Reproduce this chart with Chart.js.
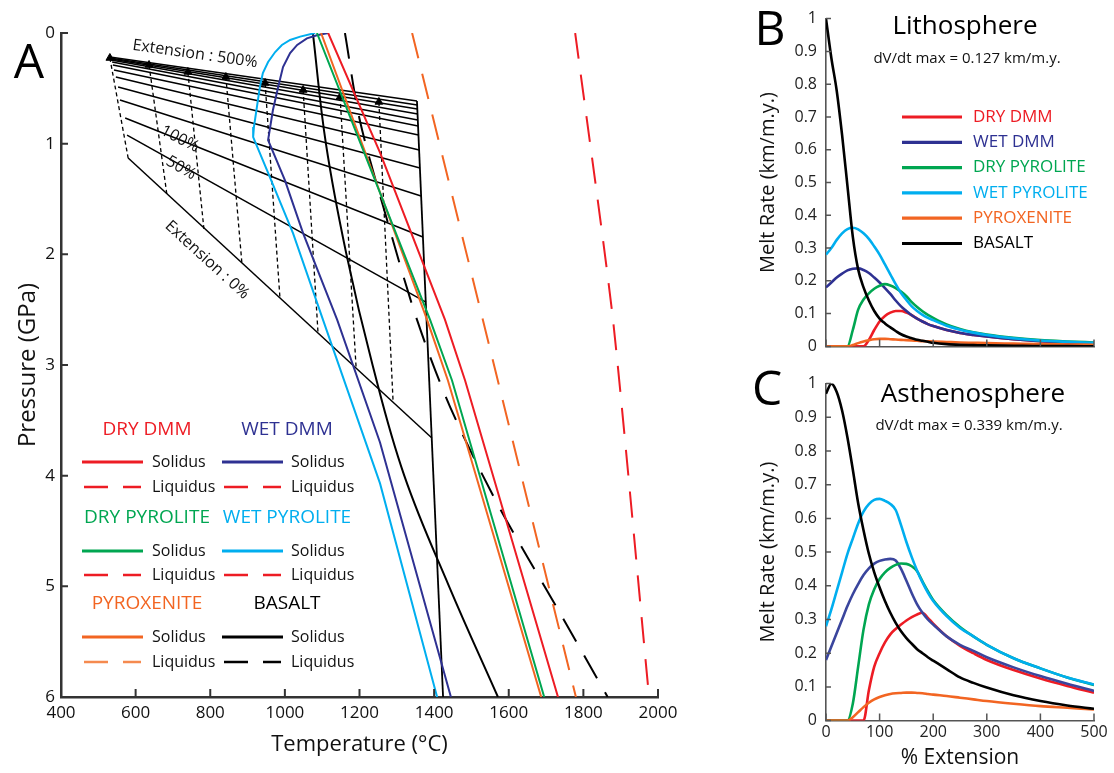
<!DOCTYPE html>
<html>
<head>
<meta charset="utf-8">
<script src="https://cdn.jsdelivr.net/npm/chart.js@4.4.0/dist/chart.umd.min.js"></script>
<style>
  html, body { margin: 0; padding: 0; background: #fff; }
  #wrap { position: relative; width: 1114px; height: 773px; overflow: hidden; }
  canvas { position: absolute; }
</style>
</head>
<body>
<div id="wrap">
  <canvas id="chartA" width="700" height="773" style="left:0;top:0"></canvas>
  <canvas id="chartB" width="414" height="365" style="left:700px;top:0"></canvas>
  <canvas id="chartC" width="414" height="408" style="left:700px;top:365px"></canvas>
</div>
<script>
// ---- Panel A: temperature (°C) / pressure (GPa) ----
const dryDmmSolT = [1116, 1255, 1429, 1483, 1732];
const dryDmmSolP = [0, 1.08, 2.59, 3.14, 6];
const dmmLiqT = [1778, 1879, 1976];
const dmmLiqP = [0, 2.58, 6];
const wetDmmSolT = [1116, 1086, 1059, 1033, 1014, 995, 982, 968, 955, 1000, 1049, 1140, 1255, 1445];
const wetDmmSolP = [0, 0.02, 0.048, 0.108, 0.181, 0.307, 0.488, 0.696, 0.967, 1.33, 1.81, 2.59, 3.7, 6];
const dryPyrSolT = [1086, 1389, 1448, 1695];
const dryPyrSolP = [0, 2.59, 3.14, 6];
const wetPyrSolT = [1081, 1041, 1014, 992, 974, 955, 941, 933, 925, 917, 915, 952, 1022, 1102, 1255, 1408];
const wetPyrSolP = [0, 0.033, 0.063, 0.108, 0.172, 0.262, 0.361, 0.488, 0.669, 0.85, 0.94, 1.24, 1.81, 2.59, 4.07, 6];
const pyxSolT = [1097, 1381, 1437, 1687];
const pyxSolP = [0, 2.59, 3.14, 6];
const pyxLiqT = [1341, 1780];
const pyxLiqP = [0, 6];
const basSolT = [1075, 1110, 1165, 1235, 1320, 1440, 1571];
const basSolP = [0, 1, 2, 3, 4, 5, 6];
const basLiqT = [1161, 1201, 1274, 1354, 1443, 1569, 1737, 1865];
const basLiqP = [0, 0.79, 1.69, 2.59, 3.38, 4.25, 5.24, 6];

// geotherms for each extension step (left end -> adiabat)
const fanLeftT = [531, 531, 534, 534, 537, 539, 542, 547, 553, 558, 572, 577, 580];
const fanLeftP = [0.217, 0.226, 0.235, 0.244, 0.262, 0.289, 0.334, 0.398, 0.488, 0.605, 0.768, 0.922, 1.13];
const fanRightT = [1354, 1355, 1355, 1356, 1356, 1357, 1358, 1360, 1362, 1365, 1370, 1378, 1394];
const fanRightP = [0.614, 0.651, 0.687, 0.732, 0.786, 0.84, 0.922, 1.057, 1.22, 1.473, 1.843, 2.431, 3.66];
const adiabatT = [1354, 1424];
const adiabatP = [0.614, 6];

// decompression paths (top with arrow -> bottom on 0% geotherm)
const pathTopT = [531, 636, 740, 842, 947, 1049, 1148, 1252];
const pathTopP = [0.226, 0.289, 0.352, 0.398, 0.452, 0.515, 0.578, 0.623];
const pathBotT = [580, 684, 783, 885, 987, 1089, 1191, 1290];
const pathBotP = [1.13, 1.464, 1.771, 2.087, 2.404, 2.72, 3.03, 3.33];

// ---- Panels B and C: melt rate vs % extension ----
const extX = [0, 10, 20, 30, 40, 50, 60, 70, 80, 90, 100, 110, 120, 130, 140, 150, 160, 170, 180, 190, 200, 225, 250, 275, 300, 350, 400, 450, 500];

const litDryDmm = [0, 0, 0, 0, 0, 0, 0, 0, 0.02, 0.05, 0.076, 0.093, 0.103, 0.108, 0.108, 0.103, 0.095, 0.085, 0.076, 0.068, 0.062, 0.05, 0.041, 0.035, 0.03, 0.022, 0.016, 0.012, 0.009];
const litWetDmm = [0.18, 0.195, 0.21, 0.222, 0.232, 0.237, 0.238, 0.233, 0.224, 0.21, 0.195, 0.178, 0.16, 0.14, 0.122, 0.108, 0.095, 0.085, 0.076, 0.068, 0.062, 0.05, 0.041, 0.035, 0.03, 0.022, 0.016, 0.012, 0.009];
const litDryPyr = [0, 0, 0, 0, 0, 0.05, 0.112, 0.143, 0.162, 0.176, 0.185, 0.19, 0.186, 0.178, 0.167, 0.153, 0.135, 0.12, 0.107, 0.096, 0.087, 0.067, 0.053, 0.043, 0.036, 0.026, 0.019, 0.015, 0.012];
const litWetPyr = [0.28, 0.3, 0.325, 0.345, 0.358, 0.362, 0.357, 0.345, 0.328, 0.305, 0.28, 0.25, 0.22, 0.19, 0.163, 0.142, 0.122, 0.108, 0.096, 0.087, 0.08, 0.063, 0.051, 0.042, 0.035, 0.025, 0.018, 0.014, 0.011];
const litPyx = [0, 0, 0, 0, 0, 0.004, 0.01, 0.015, 0.019, 0.022, 0.023, 0.023, 0.022, 0.021, 0.02, 0.019, 0.018, 0.017, 0.016, 0.0155, 0.015, 0.0135, 0.012, 0.011, 0.01, 0.0085, 0.007, 0.006, 0.005];
const litBas = [1, 0.88, 0.78, 0.645, 0.49, 0.335, 0.235, 0.18, 0.14, 0.108, 0.085, 0.07, 0.058, 0.047, 0.037, 0.03, 0.025, 0.02, 0.017, 0.014, 0.011, 0.007, 0.005, 0.004, 0.003, 0.002, 0.001, 0.001, 0];

const astDryDmm = [0, 0, 0, 0, 0, 0, 0, 0, 0.09, 0.16, 0.2, 0.232, 0.256, 0.272, 0.285, 0.297, 0.307, 0.315, 0.32, 0.305, 0.288, 0.25, 0.222, 0.2, 0.18, 0.15, 0.125, 0.103, 0.083];
const astWetDmm = [0.18, 0.22, 0.26, 0.3, 0.34, 0.375, 0.405, 0.432, 0.452, 0.466, 0.474, 0.478, 0.48, 0.475, 0.45, 0.415, 0.378, 0.345, 0.32, 0.3, 0.285, 0.25, 0.225, 0.207, 0.188, 0.158, 0.132, 0.109, 0.088];
const astDryPyr = [0, 0, 0, 0, 0, 0.05, 0.16, 0.27, 0.345, 0.39, 0.42, 0.44, 0.453, 0.462, 0.466, 0.465, 0.458, 0.443, 0.413, 0.384, 0.358, 0.313, 0.278, 0.25, 0.225, 0.185, 0.155, 0.128, 0.106];
const astWetPyr = [0.28, 0.33, 0.385, 0.44, 0.495, 0.54, 0.585, 0.62, 0.642, 0.655, 0.658, 0.652, 0.643, 0.625, 0.58, 0.53, 0.485, 0.445, 0.41, 0.38, 0.355, 0.31, 0.275, 0.25, 0.225, 0.185, 0.155, 0.128, 0.107];
const astPyx = [0, 0, 0, 0, 0, 0.01, 0.025, 0.04, 0.053, 0.063, 0.07, 0.075, 0.079, 0.081, 0.082, 0.083, 0.083, 0.082, 0.081, 0.079, 0.077, 0.073, 0.068, 0.063, 0.058, 0.05, 0.043, 0.038, 0.033];
const astBas = [0.97, 1, 0.975, 0.92, 0.84, 0.745, 0.645, 0.565, 0.495, 0.44, 0.395, 0.355, 0.32, 0.29, 0.265, 0.245, 0.228, 0.212, 0.2, 0.188, 0.178, 0.153, 0.128, 0.112, 0.098, 0.075, 0.058, 0.045, 0.035];

const rockNames = ['DRY DMM', 'WET DMM', 'DRY PYROLITE', 'WET PYROLITE', 'PYROXENITE', 'BASALT'];

const FONT = "'Open Sans', sans-serif";
const RED = '#ed1c24';
const NAVY = '#2e3192';
const NAVY_C = '#3a459d';
const GREEN = '#00a651';
const CYAN = '#00aeef';
const ORANGE = '#f26522';
const BLACK = '#000000';
const rockColors = [RED, NAVY, GREEN, CYAN, ORANGE, BLACK];
const liquidusColors = [RED, RED, RED, RED, '#f58a4f', BLACK];

function pts(xs, ys) {
    return xs.map((x, i) => ({ x: x, y: ys[i] }));
}

function label(ctx, str, x, y, opt) {
    ctx.save();
    ctx.font = (opt.weight || '') + ' ' + opt.size + 'px ' + FONT;
    ctx.fillStyle = opt.color || '#111';
    ctx.textAlign = opt.align || 'center';
    ctx.textBaseline = 'middle';
    ctx.translate(x, y);
    if (opt.rot) ctx.rotate((opt.rot * Math.PI) / 180);
    ctx.fillText(str, 0, 0);
    ctx.restore();
}

function strokeLine(ctx, x1, x2, y, color, width, dash) {
    ctx.save();
    ctx.strokeStyle = color;
    ctx.lineWidth = width;
    ctx.setLineDash(dash || []);
    ctx.beginPath();
    ctx.moveTo(x1, y);
    ctx.lineTo(x2, y);
    ctx.stroke();
    ctx.restore();
}

// tick marks drawn inside the plot area, like the original figure
const inwardTicks = {
    id: 'inwardTicks',
    afterDraw(chart, args, opts) {
        const { ctx, chartArea: area } = chart;
        const xs = chart.scales.x;
        const ys = chart.scales.y;
        ctx.save();
        ctx.strokeStyle = opts.color;
        ctx.lineWidth = opts.width;
        ctx.beginPath();
        xs.ticks.forEach((t) => {
            const px = xs.getPixelForValue(t.value);
            ctx.moveTo(px, area.bottom);
            ctx.lineTo(px, area.bottom - opts.xLen);
        });
        ys.ticks.forEach((t) => {
            const py = ys.getPixelForValue(t.value);
            ctx.moveTo(area.left, py);
            ctx.lineTo(area.left + opts.yLen, py);
        });
        ctx.stroke();
        ctx.restore();
    },
};

function curve(name, xs, ys, color, extra) {
    return Object.assign(
        {
            label: name,
            data: pts(xs, ys),
            showLine: true,
            borderColor: color,
            backgroundColor: color,
            borderWidth: 2,
            pointRadius: 0,
            tension: 0,
        },
        extra || {}
    );
}

// ---------------- Panel A ----------------
const datasetsA = [
    curve('DRY DMM solidus', dryDmmSolT, dryDmmSolP, RED),
    curve('DRY PYROLITE solidus', dryPyrSolT, dryPyrSolP, GREEN),
    curve('PYROXENITE solidus', pyxSolT, pyxSolP, ORANGE),
    curve('WET DMM solidus', wetDmmSolT, wetDmmSolP, NAVY),
    curve('WET PYROLITE solidus', wetPyrSolT, wetPyrSolP, CYAN),
    curve('DMM liquidus', dmmLiqT, dmmLiqP, RED, { borderDash: [26, 16], tension: 0.2 }),
    curve('PYROXENITE liquidus', pyxLiqT, pyxLiqP, ORANGE, { borderDash: [26, 16] }),
    curve('BASALT liquidus', basLiqT, basLiqP, BLACK, { borderDash: [26, 16], tension: 0.3 }),
    curve('BASALT solidus', basSolT, basSolP, BLACK, { tension: 0.4 }),
    curve('adiabat', adiabatT, adiabatP, BLACK, { borderWidth: 1.8 }),
];

fanLeftT.forEach((t, i) => {
    datasetsA.push(
        curve('geotherm ' + i, [t, fanRightT[i]], [fanLeftP[i], fanRightP[i]], BLACK, { borderWidth: 1.5 })
    );
});

pathTopT.forEach((t, i) => {
    datasetsA.push(
        curve('path ' + i, [t, pathBotT[i]], [pathTopP[i], pathBotP[i]], BLACK, {
            borderWidth: 1.3,
            borderDash: [4, 3],
            pointStyle: 'triangle',
            pointRadius: (c) => (c.dataIndex === 0 ? 4.5 : 0),
            pointBorderWidth: 1,
        })
    );
});

const panelAText = {
    id: 'panelAText',
    afterDatasetsDraw(chart) {
        const ctx = chart.ctx;
        label(ctx, 'A', 29, 64, { size: 48, color: '#000' });
        label(ctx, 'Extension : 500%', 195, 54, { size: 16, rot: 8.1 });
        label(ctx, '100%', 180, 139, { size: 16, rot: 27 });
        label(ctx, '50%', 181, 168, { size: 16, rot: 30 });
        label(ctx, 'Extension : 0%', 207, 260, { size: 16, rot: 42.4 });

        // two-column legend
        const headY = [430, 518, 604];
        const solY = [462, 551, 637];
        const liqY = [487, 575, 662];
        const headX = [147, 287];
        const lineX = [[82, 143], [222, 283]];
        const textX = [152, 291];
        rockNames.forEach((name, i) => {
            const row = Math.floor(i / 2);
            const col = i % 2;
            label(ctx, name, headX[col], headY[row], { size: 19, color: rockColors[i] });
            strokeLine(ctx, lineX[col][0], lineX[col][1], solY[row], rockColors[i], 3);
            label(ctx, 'Solidus', textX[col], solY[row], { size: 16, align: 'left' });
            strokeLine(ctx, lineX[col][0] + 2, lineX[col][1] - 2, liqY[row], liquidusColors[i], 2.5, [24, 15]);
            label(ctx, 'Liquidus', textX[col], liqY[row], { size: 16, align: 'left' });
        });
    },
};

new Chart(document.getElementById('chartA'), {
    type: 'scatter',
    data: { datasets: datasetsA },
    options: {
        responsive: false,
        animation: false,
        layout: { padding: { left: 0, right: 42, top: 33, bottom: 0 } },
        plugins: {
            legend: { display: false },
            tooltip: { enabled: false },
            inwardTicks: { color: '#333', width: 2, xLen: 8, yLen: 7 },
        },
        scales: {
            x: {
                type: 'linear',
                min: 400,
                max: 2000,
                afterFit: (s) => { s.height = 76; },
                grid: { display: false, drawTicks: false },
                border: { display: true, color: '#333', width: 2.5 },
                ticks: {
                    stepSize: 200,
                    padding: 6,
                    color: '#111',
                    maxRotation: 0,
                    autoSkip: false,
                    font: { family: FONT, size: 17 },
                    callback: (v) => String(v),
                },
                title: {
                    display: true,
                    text: 'Temperature (°C)',
                    color: '#111',
                    font: { family: FONT, size: 22 },
                    padding: { bottom: 15 },
                },
            },
            y: {
                type: 'linear',
                reverse: true,
                min: 0,
                max: 6,
                afterFit: (s) => { s.width = 61; },
                grid: { display: false, drawTicks: false },
                border: { display: true, color: '#333', width: 2.5 },
                ticks: {
                    stepSize: 1,
                    padding: 6,
                    color: '#111',
                    font: { family: FONT, size: 17 },
                    callback: (v) => String(v),
                },
                title: {
                    display: true,
                    text: 'Pressure (GPa)',
                    color: '#111',
                    font: { family: FONT, size: 24 },
                    padding: { top: 14 },
                },
            },
        },
    },
    plugins: [inwardTicks, panelAText],
});

// ---------------- Panels B and C ----------------
function meltDatasets(bas, pyx, wetPyr, dryPyr, wetDmm, dryDmm, navy) {
    const mk = (name, ys, color) => ({
        label: name,
        data: pts(extX, ys),
        borderColor: color,
        backgroundColor: color,
        borderWidth: 2.6,
        pointRadius: 0,
        cubicInterpolationMode: 'monotone',
        fill: false,
    });
    // first dataset is painted last (on top)
    return [
        mk('BASALT', bas, BLACK),
        mk('PYROXENITE', pyx, ORANGE),
        mk('WET PYROLITE', wetPyr, CYAN),
        mk('DRY PYROLITE', dryPyr, GREEN),
        mk('WET DMM', wetDmm, navy),
        mk('DRY DMM', dryDmm, RED),
    ];
}

function meltOptions(area, showX) {
    return {
        responsive: false,
        animation: false,
        layout: { padding: { left: 0, right: 20, top: area.top, bottom: 0 } },
        plugins: {
            legend: { display: false },
            tooltip: { enabled: false },
            inwardTicks: { color: '#555', width: 1.5, xLen: 7, yLen: 5 },
        },
        scales: {
            x: {
                type: 'linear',
                min: 0,
                max: 500,
                afterFit: (s) => { s.height = area.xHeight; },
                grid: { display: false, drawTicks: false },
                border: { display: true, color: '#555', width: 1.6 },
                ticks: {
                    display: showX,
                    stepSize: 100,
                    padding: 2,
                    color: '#222',
                    maxRotation: 0,
                    font: { family: FONT, size: 16 },
                    callback: (v) => String(v),
                },
                title: {
                    display: showX,
                    text: '% Extension',
                    color: '#111',
                    font: { family: FONT, size: 21 },
                    padding: { bottom: 2 },
                },
            },
            y: {
                type: 'linear',
                min: 0,
                max: 1,
                afterFit: (s) => { s.width = 126; },
                grid: { display: false, drawTicks: false },
                border: { display: true, color: '#555', width: 1.6 },
                ticks: {
                    stepSize: 0.1,
                    padding: 9,
                    color: '#222',
                    font: { family: FONT, size: 16 },
                    callback: (v) => String(Math.round(v * 10) / 10),
                },
                title: {
                    display: true,
                    text: 'Melt Rate (km/m.y.)',
                    color: '#111',
                    font: { family: FONT, size: 20 },
                    padding: { top: 56 },
                },
            },
        },
    };
}

const panelBText = {
    id: 'panelBText',
    afterDatasetsDraw(chart) {
        const ctx = chart.ctx;
        label(ctx, 'B', 70, 31, { size: 48, color: '#000' });
        label(ctx, 'Lithosphere', 265, 27, { size: 26, color: '#000' });
        label(ctx, 'dV/dt max = 0.127 km/m.y.', 267, 59, { size: 15, color: '#111' });
        rockNames.forEach((name, i) => {
            const y = 117 + i * 25.3;
            strokeLine(ctx, 202, 262, y, rockColors[i], 3.2);
            label(ctx, name, 273, y, { size: 17, color: rockColors[i], align: 'left' });
        });
    },
};

const panelCText = {
    id: 'panelCText',
    afterDatasetsDraw(chart) {
        const ctx = chart.ctx;
        label(ctx, 'C', 67, 26, { size: 48, color: '#000' });
        label(ctx, 'Asthenosphere', 273, 30, { size: 26, color: '#000' });
        label(ctx, 'dV/dt max = 0.339 km/m.y.', 269, 61, { size: 15, color: '#111' });
    },
};

new Chart(document.getElementById('chartB'), {
    type: 'line',
    data: { datasets: meltDatasets(litBas, litPyx, litWetPyr, litDryPyr, litWetDmm, litDryDmm, NAVY) },
    options: meltOptions({ top: 11, xHeight: 8 }, false),
    plugins: [inwardTicks, panelBText],
});

new Chart(document.getElementById('chartC'), {
    type: 'line',
    data: { datasets: meltDatasets(astBas, astPyx, astWetPyr, astDryPyr, astWetDmm, astDryDmm, NAVY_C) },
    options: meltOptions({ top: 9.6, xHeight: 52.4 }, true),
    plugins: [inwardTicks, panelCText],
});
</script>
</body>
</html>
